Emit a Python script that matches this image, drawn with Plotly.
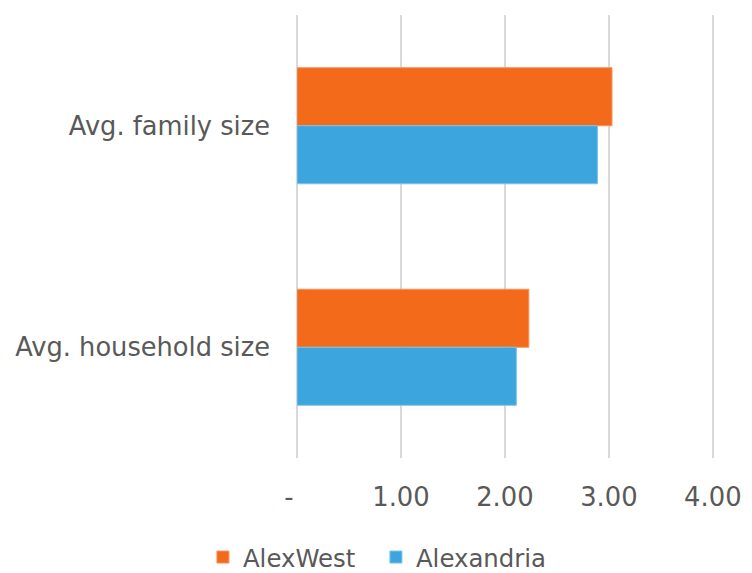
import plotly.graph_objects as go

categories = ["Avg. family size", "Avg. household size"]
alexwest = [3.03, 2.23]
alexandria = [2.89, 2.11]
tick_vals = [0, 1, 2, 3, 4]
tick_text = ["-\u00a0\u00a0", "1.00", "2.00", "3.00", "4.00"]

font_grey = "#595959"
grid_grey = "#D9D9D9"

fig = go.Figure()
fig.add_trace(go.Bar(
    y=categories, x=alexwest, name="AlexWest", orientation="h",
    marker=dict(color="#F36A1B", line=dict(color="#F7935A", width=1))
))
fig.add_trace(go.Bar(
    y=categories, x=alexandria, name="Alexandria", orientation="h",
    marker=dict(color="#3CA5DD", line=dict(color="#7DC3EA", width=1))
))

# the page body keeps its 8px default margin, so the figure is drawn 8px smaller
# range goes a bit past 4 so the last gridline is not dropped at the edge
fig.update_layout(
    width=744,
    height=565,
    margin=dict(l=289, r=35, t=7, b=115),
    barmode="group",
    bargap=0.476,
    bargroupgap=0,
    plot_bgcolor="white",
    paper_bgcolor="white",
    font=dict(family="DejaVu Sans", size=25, color=font_grey),
    xaxis=dict(
        range=[0, 4.04],
        tickvals=tick_vals,
        ticktext=tick_text,
        showgrid=True,
        gridcolor=grid_grey,
        gridwidth=2,
        zeroline=True,
        zerolinecolor=grid_grey,
        zerolinewidth=2,
        showline=False,
        automargin=False,
        ticklabelstandoff=21,
        tickfont=dict(size=25.8, color=font_grey),
    ),
    yaxis=dict(
        autorange="reversed",
        showgrid=False,
        zeroline=False,
        showline=False,
        automargin=False,
        ticklabelstandoff=26,
        tickfont=dict(size=25.7, color=font_grey),
    ),
    legend=dict(
        orientation="h",
        xref="container",
        x=0.262,
        xanchor="left",
        yref="container",
        y=0.028,
        yanchor="middle",
        entrywidth=128,
        font=dict(size=24.4, color=font_grey),
    ),
)

fig.write_html("out.html")
